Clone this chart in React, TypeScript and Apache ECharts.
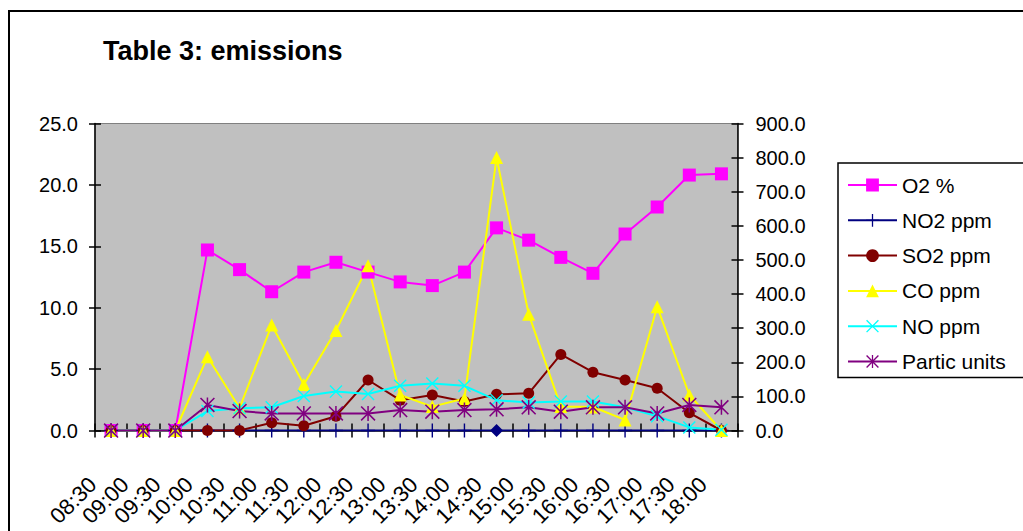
import React, { useEffect, useRef } from "react";
import * as echarts from "echarts";

const categories = ["08:30","09:00","09:30","10:00","10:30","11:00","11:30","12:00","12:30","13:00","13:30","14:00","14:30","15:00","15:30","16:00","16:30","17:00","17:30","18:00"];
const o2 = [0,0,0,14.7,13.1,11.3,12.9,13.7,12.9,12.1,11.8,12.9,16.5,15.5,14.1,12.8,16.0,18.2,20.8,20.9];
const no2 = [0,0,0,0,0,0,0,0,0,0,0,0,0,0,0,0,0,0,0,0];
const so2 = [0,0,0,0,0,23,14,42,148,89,104,85,106,109,223,171,148,124,52,0];
const co = [0,0,0,216,66,309,135,293,483,104,70,94,800,341,70,69,31,363,104,0];
const no = [0,0,0,57,65,68,101,114,107,131,138,131,89,82,85,85,68,42,9,2];
const partic = [0,0,0,75,57,50,50,50,50,60,55,60,62,68,55,68,68,50,75,68];
const seriesNames = ["O2 %","NO2 ppm","SO2 ppm","CO ppm","NO ppm","Partic units"];
const leftTicks = { min: 0, max: 25, interval: 5 };
const rightTicks = { min: 0, max: 900, interval: 100 };

const FONT = "'Liberation Sans', Arial, sans-serif";
const PLUS = "path://M9,0L11,0L11,20L9,20ZM0,9L20,9L20,11L0,11Z";
const XMARK = "path://M0,1.5L1.5,0L20,18.5L18.5,20ZM18.5,0L20,1.5L1.5,20L0,18.5Z";
const STAR = "path://M0,1.5L1.5,0L20,18.5L18.5,20ZM18.5,0L20,1.5L1.5,20L0,18.5ZM9,0L11,0L11,20L9,20Z";

export default function App() {
  const ref = useRef<HTMLDivElement>(null);
  useEffect(() => {
    document.body.style.margin = "0";
    const chart = echarts.init(ref.current!, null, { renderer: "svg" });
    const fmt = (v: number) => v.toFixed(1);
    const mkLine = (name: string, data: any[], color: string, symbol: string, size: number, yIdx: number) => ({
      name, type: "line", data, yAxisIndex: yIdx, xAxisIndex: 0,
      symbol, symbolSize: size,
      lineStyle: { color, width: 2 },
      itemStyle: { color },
      emphasis: { disabled: true },
    });
    const no2Data = no2.map((v, i) => (i === 12 ? { value: v, symbol: "diamond", symbolSize: 13 } : v));
    chart.setOption({
      animation: false,
      textStyle: { fontFamily: FONT },
      title: {
        text: "Table 3: emissions", left: 103, top: 37, padding: 0,
        textStyle: { fontSize: 27, fontWeight: "bold", color: "#000", fontFamily: FONT },
      },
      graphic: [
        { type: "rect", z: -10, shape: { x: 9, y: 11, width: 1100, height: 600 }, style: { fill: "#fff", stroke: "#000", lineWidth: 2 } },
      ],
      legend: {
        orient: "vertical", left: 838, top: 163,
        padding: [11, 40, 5, 9],
        itemWidth: 49, itemHeight: 16, itemGap: 13.3,
        borderColor: "#000", borderWidth: 1.5, backgroundColor: "#fff",
        textStyle: { fontSize: 21, color: "#000", fontFamily: FONT, lineHeight: 22 },
        data: seriesNames,
      },
      grid: {
        left: 95, right: 285.5, top: 123.5, bottom: 100.5,
        show: true, backgroundColor: "#c0c0c0", borderColor: "#808080", borderWidth: 1,
      },
      xAxis: [
        {
          type: "category", data: categories, position: "bottom", boundaryGap: true,
          axisLine: { lineStyle: { color: "#000", width: 1.5 } },
          axisTick: { show: true, length: 7, interval: 0, lineStyle: { color: "#000", width: 1.5 } },
          axisLabel: { interval: 0, rotate: 45, fontSize: 22, color: "#000", margin: 32, padding: [0, 26, 0, 0], fontFamily: FONT },
          splitLine: { show: false },
        },
        {
          type: "category", data: categories, position: "bottom", offset: 0, boundaryGap: true,
          axisLine: { show: false },
          axisTick: { show: true, inside: true, length: 7, interval: 0, lineStyle: { color: "#000", width: 1.5 } },
          axisLabel: { show: false },
          splitLine: { show: false },
        },
      ],
      yAxis: [
        {
          type: "value", position: "left", ...leftTicks,
          axisLine: { show: true, lineStyle: { color: "#000", width: 1.5 } },
          axisTick: { show: true, length: 6, lineStyle: { color: "#000", width: 1.5 } },
          axisLabel: { formatter: fmt, fontSize: 20, color: "#000", margin: 17, fontFamily: FONT },
          splitLine: { show: false },
        },
        {
          type: "value", position: "right", ...rightTicks,
          axisLine: { show: true, lineStyle: { color: "#000", width: 1.5 } },
          axisTick: { show: true, length: 6, lineStyle: { color: "#000", width: 1.5 } },
          axisLabel: { formatter: fmt, fontSize: 20, color: "#000", margin: 18, fontFamily: FONT },
          splitLine: { show: false },
        },
        {
          type: "value", position: "left", offset: 0, ...leftTicks,
          axisLine: { show: false },
          axisTick: { show: true, inside: true, length: 6, lineStyle: { color: "#000", width: 1.5 } },
          axisLabel: { show: false }, splitLine: { show: false },
        },
        {
          type: "value", position: "right", offset: 0, ...rightTicks,
          axisLine: { show: false },
          axisTick: { show: true, inside: true, length: 6, lineStyle: { color: "#000", width: 1.5 } },
          axisLabel: { show: false }, splitLine: { show: false },
        },
      ],
      series: [
        mkLine(seriesNames[0], o2, "#ff00ff", "rect", 13, 0),
        mkLine(seriesNames[1], no2Data, "#000080", PLUS, 14, 1),
        mkLine(seriesNames[2], so2, "#800000", "circle", 11, 1),
        mkLine(seriesNames[3], co, "#ffff00", "triangle", 13, 1),
        mkLine(seriesNames[4], no, "#00ffff", XMARK, 13, 1),
        mkLine(seriesNames[5], partic, "#800080", STAR, 15, 1),
      ],
    });
    return () => chart.dispose();
  }, []);
  return <div ref={ref} style={{ position: "absolute", left: 0, top: 0, width: 1023, height: 531 }} />;
}
